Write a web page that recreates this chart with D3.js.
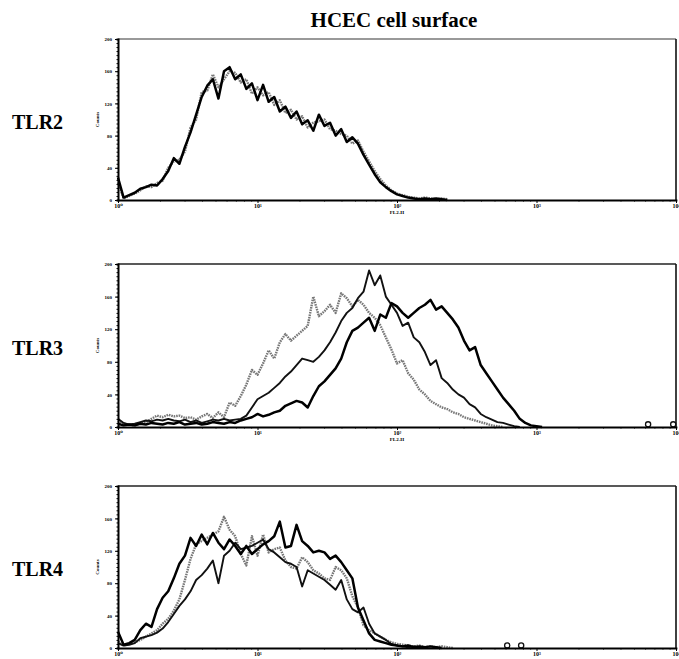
<!DOCTYPE html>
<html>
<head>
<meta charset="utf-8">
<script src="https://cdn.jsdelivr.net/npm/d3@7"></script>
<style>
  body { margin: 0; background: #fff; }
  svg text { font-family: "Liberation Serif", "DejaVu Serif", serif; }
</style>
</head>
<body>
<svg id="chart"></svg>
<script>
// FL2-H channel, in decades (log10), shared by every histogram
const fl2 = [0,0.04,0.08,0.12,0.16,0.2,0.24,0.28,0.32,0.36,0.4,0.44,0.48,0.52,0.56,0.6,0.64,0.68,0.72,0.76,
  0.8,0.84,0.88,0.92,0.96,1,1.04,1.08,1.12,1.16,1.2,1.24,1.28,1.32,1.36,1.4,1.44,1.48,1.52,1.56,
  1.6,1.64,1.68,1.72,1.76,1.8,1.84,1.88,1.92,1.96,2,2.04,2.08,2.12,2.16,2.2,2.24,2.28,2.32,2.36,
  2.4,2.44,2.48,2.52,2.56,2.6,2.64,2.68,2.72,2.76,2.8,2.84,2.88,2.92,2.96,3,3.04,3.08,3.12,3.16,3.2];

// counts
const tlr2Gray = [22,2,5,8,12,17,16,21,24,40, 48,50,60,90,100,134,136,156,140,150,
  160,158,146,150,132,140,130,134,118,124, 108,112,100,104,90,96,98,100,88,86,
  82,80,70,74,60,48,36,26,18,12, 8,6,4,3,2,3,2,1,2,1];
const tlr2Black = [28,3,6,9,14,16,19,18,26,36, 52,45,66,84,106,128,142,150,126,160,
  165,150,156,138,145,124,143,122,128,110, 116,102,110,94,99,86,106,92,96,80,
  88,72,78,70,56,44,32,22,16,11, 7,5,3,2,1,2,1,2,1,0];

const tlr3Gray = [8,4,3,2,5,6,10,14,12,15, 13,14,11,12,9,13,16,11,18,12,
  30,26,38,52,70,64,78,94,84,104, 114,106,112,118,124,160,136,142,150,140,
  164,158,148,156,150,140,134,125,110,95, 78,82,66,58,46,40,32,28,24,22,
  18,16,12,10,8,6,4,2,1,0];
const tlr3Mid = [10,5,3,4,6,8,7,9,8,10, 8,7,9,6,8,5,7,9,8,10,
  8,9,10,14,24,34,38,42,48,54, 62,68,76,84,82,80,86,94,104,116,
  130,140,146,158,166,192,174,186,160,150, 140,124,128,110,104,92,76,82,60,54,
  46,40,36,28,24,16,12,9,6,5, 3,1,0];
const tlr3Bold = [4,2,3,2,4,3,5,4,3,5, 4,6,3,4,5,3,4,6,5,4,
  6,5,8,10,12,16,13,15,18,20, 26,29,32,30,24,38,50,56,64,72,
  84,104,118,122,128,134,118,138,134,152, 148,140,134,140,146,150,156,144,148,140,
  132,122,106,94,98,76,66,56,46,36, 28,20,10,5,2,1,0];

const tlr4Gray = [8,3,5,7,10,14,18,22,30,36, 46,60,84,110,128,132,136,140,144,162,
  146,138,116,102,138,114,140,118,122,124, 108,100,98,112,106,96,92,86,84,100,
  96,86,64,50,28,22,18,14,10,7, 5,4,3,2,3,1,2,1,2,1, 0];
const tlr4Mid = [6,3,4,6,12,14,16,19,24,32, 42,52,60,70,84,90,98,108,80,114,
  120,130,122,124,126,130,134,122,118,112, 106,104,100,76,96,92,88,84,78,72,
  84,60,48,44,50,30,18,14,10,5, 3,2,1,2,1,0];
const tlr4Bold = [20,4,6,10,22,30,26,48,62,70, 86,104,114,136,126,140,128,142,130,122,
  134,126,116,126,116,122,128,132,138,156, 124,126,152,132,126,118,120,118,110,114,
  106,96,86,50,34,18,10,8,6,4, 3,2,3,1,2,1,2,1,0];

// lone events far out on the axis [decade, count]
const tlr3Stray = [[3.8, 2], [3.98, 2]];
const tlr4Stray = [[2.79, 2], [2.89, 2]];

const panelNames = ["TLR2", "TLR3", "TLR4"];
const yTicks = [0, 40, 80, 120, 160, 200];
const xTicks = [0, 1, 2, 3, 4];
const xTickLabels = ["10\u2070", "10\u00b9", "10\u00b2", "10\u00b3", "10\u2074"];
const title = "HCEC cell surface";

const panels = [
  { name: panelNames[0], series: [["gray", tlr2Gray], ["bold", tlr2Black]], stray: [] },
  { name: panelNames[1], series: [["gray", tlr3Gray], ["mid", tlr3Mid], ["bold", tlr3Bold]], stray: tlr3Stray },
  { name: panelNames[2], series: [["gray", tlr4Gray], ["mid", tlr4Mid], ["bold", tlr4Bold]], stray: tlr4Stray }
];

const lineStyle = {
  gray: { stroke: "#777", width: 2.4, dash: "1.6 0.9" },
  mid:  { stroke: "#111", width: 1.9, dash: null },
  bold: { stroke: "#000", width: 2.5, dash: null }
};

const W = 679, H = 659;
const left = 118, right = 676;
const frames = [[39, 200], [264, 427], [486, 648]];

const svg = d3.select("#chart").attr("width", W).attr("height", H);

svg.append("text")
  .attr("x", 394).attr("y", 27)
  .attr("text-anchor", "middle")
  .attr("font-size", 21).attr("font-weight", "bold")
  .text(title);

const x = d3.scaleLinear().domain([0, 4]).range([left, right]);

// minor log ticks 2..9 in each decade
const minorX = [];
for (let d = 0; d < 4; d++) for (let k = 2; k < 10; k++) minorX.push(d + Math.log10(k));

panels.forEach((p, pi) => {
  const [top, bottom] = frames[pi];
  const y = d3.scaleLinear().domain([0, 200]).range([bottom, top]);
  const g = svg.append("g");

  // row label
  g.append("text")
    .attr("x", 12).attr("y", (top + bottom) / 2 + 9)
    .attr("font-size", 20).attr("font-weight", "bold")
    .text(p.name);

  const line = d3.line()
    .x((d, i) => x(fl2[i]))
    .y(d => y(d));

  p.series.forEach(([kind, vals]) => {
    const s = lineStyle[kind];
    g.append("path")
      .datum(vals)
      .attr("d", line)
      .attr("fill", "none")
      .attr("stroke", s.stroke)
      .attr("stroke-width", s.width)
      .attr("stroke-linejoin", "round")
      .attr("stroke-dasharray", s.dash);
  });

  g.selectAll(".stray")
    .data(p.stray)
    .enter().append("ellipse")
    .attr("cx", d => x(d[0]))
    .attr("cy", d => y(d[1]) - 1)
    .attr("rx", 2.6).attr("ry", 2.6)
    .attr("fill", "none").attr("stroke", "#111").attr("stroke-width", 1.3);

  // frame: top and right
  g.append("line")
    .attr("x1", left).attr("x2", right).attr("y1", top).attr("y2", top)
    .attr("stroke", pi === 0 ? "#777" : "#222").attr("stroke-width", 1.4);
  g.append("line")
    .attr("x1", right).attr("x2", right).attr("y1", top).attr("y2", bottom)
    .attr("stroke", "#111").attr("stroke-width", 1.6);

  // x axis
  const xAxis = g.append("g").attr("transform", `translate(0,${bottom})`);
  xAxis.call(d3.axisBottom(x).tickValues(minorX).tickSize(1.5).tickFormat(""));
  xAxis.append("g").call(d3.axisBottom(x).tickValues(xTicks).tickSize(3)
      .tickFormat((d, i) => xTickLabels[i]))
    .call(a => a.select(".domain").remove())
    .selectAll("text")
    .attr("font-size", 6).attr("font-weight", "bold").attr("dy", "0.3em");
  xAxis.select(".domain").attr("stroke-width", 1.8).attr("stroke", "#000");
  // the last panel's axis title falls below the page edge in the original
  if (pi < 2) {
    xAxis.append("text")
      .attr("x", x(2)).attr("y", 14)
      .attr("text-anchor", "middle")
      .attr("font-size", 5).attr("font-weight", "bold").attr("fill", "#000")
      .text("FL2-H");
  }

  // y axis
  const yAxis = g.append("g").attr("transform", `translate(${left},0)`);
  yAxis.call(d3.axisLeft(y).tickValues(d3.range(0, 201, 5)).tickSize(1.5).tickFormat(""));
  yAxis.append("g").call(d3.axisLeft(y).tickValues(yTicks).tickSize(3))
    .call(a => a.select(".domain").remove())
    .selectAll("text")
    .attr("font-size", 5).attr("font-weight", "bold");
  yAxis.select(".domain").attr("stroke-width", 2).attr("stroke", "#000");
  yAxis.append("text")
    .attr("transform", `translate(-19,${(top + bottom) / 2}) rotate(-90)`)
    .attr("text-anchor", "middle")
    .attr("font-size", 5).attr("font-weight", "bold").attr("fill", "#000")
    .text("Counts");
});
</script>
</body>
</html>
